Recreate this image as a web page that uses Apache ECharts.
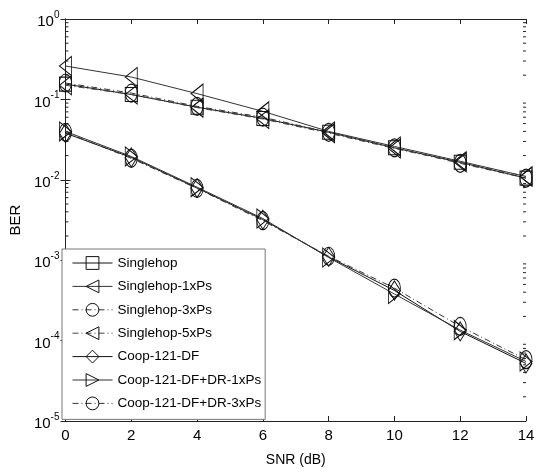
<!DOCTYPE html>
<html>
<head>
<meta charset="utf-8">
<script src="https://cdn.jsdelivr.net/npm/echarts@6/dist/echarts.min.js"></script>
<style>
html,body{margin:0;padding:0;background:#fff;}
#c{width:538px;height:472px;}
</style>
</head>
<body>
<div id="c"></div>
<script>
// ---- data ----
const snr = [0, 2, 4, 6, 8, 10, 12, 14];
const seriesNames = ['Singlehop','Singlehop-1xPs','Singlehop-3xPs','Singlehop-5xPs','Coop-121-DF','Coop-121-DF+DR-1xPs','Coop-121-DF+DR-3xPs'];
const singlehop      = [0.155, 0.115, 0.080, 0.058, 0.039, 0.025, 0.0165, 0.0105];
const singlehop1xPs  = [0.26, 0.19, 0.118, 0.071, 0.040, 0.026, 0.017, 0.011];
const singlehop3xPs  = [0.16, 0.12, 0.082, 0.060, 0.039, 0.025, 0.016, 0.0105];
const singlehop5xPs  = [0.15, 0.115, 0.079, 0.057, 0.038, 0.0245, 0.0165, 0.011];
const coopDF         = [0.038, 0.019, 0.0079, 0.0032, 0.0011, 0.00042, 0.00013, 0.000052];
const coopDR1xPs     = [0.040, 0.0195, 0.0081, 0.0033, 0.00108, 0.00038, 0.000135, 0.000055];
const coopDR3xPs     = [0.039, 0.0185, 0.0078, 0.0031, 0.00112, 0.00045, 0.00015, 0.000058];
const yTickExponents = [0, -1, -2, -3, -4, -5];
const xTicks = [0, 2, 4, 6, 8, 10, 12, 14];

// minor tick values for log axis (decoration)
const minorVals = [];
for (let e = -5; e < 0; e++) for (let k = 2; k <= 9; k++) minorVals.push(k * Math.pow(10, e));

const allData = [singlehop, singlehop1xPs, singlehop3xPs, singlehop5xPs, coopDF, coopDR1xPs, coopDR3xPs];
const styles = [
  {symbol:'rect', size:[12,14], rot:0, type:'solid', color:'#111'},
  {symbol:'triangle', size:[19,12], rot:90, type:'solid', color:'#333'},
  {symbol:'circle', size:[12,18], rot:0, type:[6,3,1,3], color:'#333'},
  {symbol:'triangle', size:[19,12], rot:90, type:[6,3,1,3], color:'#444'},
  {symbol:'diamond', size:[12,19], rot:0, type:'solid', color:'#111'},
  {symbol:'triangle', size:[19,12], rot:-90, type:'solid', color:'#333'},
  {symbol:'circle', size:[12,18], rot:0, type:[6,3,1,3], color:'#333'}
];

const series = allData.map((d, i) => ({
  name: seriesNames[i],
  type: 'line',
  data: d.map((v, j) => [snr[j], v]),
  symbol: styles[i].symbol,
  symbolSize: styles[i].size,
  symbolRotate: styles[i].rot,
  showAllSymbol: true,
  lineStyle: {color: styles[i].color, width: 1, type: styles[i].type},
  itemStyle: {color: 'rgba(255,255,255,0)', borderColor: '#111', borderWidth: 1},
  emphasis: {disabled: true},
  animation: false,
  z: 3
}));

// minor ticks on left and right y axes via custom series
series.push({
  type: 'custom',
  silent: true,
  animation: false,
  data: minorVals.map(v => [0, v]),
  renderItem: function (params, api) {
    const v = api.value(1);
    const pl = api.coord([0, v]);
    const pr = api.coord([14, v]);
    return {type: 'group', children: [
      {type: 'line', shape: {x1: pl[0], y1: pl[1], x2: pl[0] + 3, y2: pl[1]}, style: {stroke: '#222', lineWidth: 1}},
      {type: 'line', shape: {x1: pr[0], y1: pr[1], x2: pr[0] - 3, y2: pr[1]}, style: {stroke: '#222', lineWidth: 1}}
    ]};
  },
  z: 2
});

const font = '"Liberation Sans", Arial, sans-serif';
const chart = echarts.init(document.getElementById('c'), null, {renderer: 'canvas'});
chart.setOption({
  backgroundColor: '#fff',
  animation: false,
  grid: {left: 61, right: 12, top: 19, bottom: 49, containLabel: false},
  xAxis: [{
    type: 'value', min: 0, max: 14, interval: 2, position: 'bottom',
    name: 'SNR (dB)', nameLocation: 'middle', nameGap: 32,
    nameTextStyle: {fontFamily: font, fontSize: 14, color: '#000'},
    axisLine: {lineStyle: {color: '#222', width: 1}},
    axisTick: {inside: true, length: 5, lineStyle: {color: '#222'}},
    axisLabel: {fontFamily: font, fontSize: 15, color: '#000', margin: 7,
      formatter: v => xTicks.indexOf(v) >= 0 ? String(v) : ''},
    splitLine: {show: false}
  }, {
    type: 'value', min: 0, max: 14, interval: 2, position: 'top',
    axisLine: {lineStyle: {color: '#222', width: 1}},
    axisTick: {inside: true, length: 5, lineStyle: {color: '#222'}},
    axisLabel: {show: false}, splitLine: {show: false}
  }],
  yAxis: [{
    type: 'log', logBase: 10, min: 1e-5, max: 1, position: 'left',
    name: 'BER', nameLocation: 'middle', nameGap: 34, nameRotate: 90,
    nameTextStyle: {fontFamily: font, fontSize: 15, color: '#000'},
    axisLine: {show: true, lineStyle: {color: '#222', width: 1}},
    axisTick: {inside: true, length: 5, lineStyle: {color: '#222'}},
    axisLabel: {
      margin: 6, fontFamily: font, color: '#000',
      formatter: function (v) {
        const e = Math.round(Math.log10(v));
        if (yTickExponents.indexOf(e) < 0) return '';
        return '{b|10}{s|' + e + '}';
      },
      rich: {
        b: {fontFamily: font, fontSize: 15, color: '#000', padding: [6, 0, 0, 0]},
        s: {fontFamily: font, fontSize: 10, color: '#000', padding: [0, 0, 8, 0]}
      }
    },
    splitLine: {show: false}
  }, {
    type: 'log', logBase: 10, min: 1e-5, max: 1, position: 'right',
    axisLine: {show: true, lineStyle: {color: '#222', width: 1}},
    axisTick: {inside: true, length: 5, lineStyle: {color: '#222'}},
    axisLabel: {show: false}, splitLine: {show: false}
  }],
  legend: {
    orient: 'vertical', left: 62, top: 249,
    backgroundColor: '#fff', borderColor: '#777', borderWidth: 1,
    padding: [6, 4, 8, 10],
    itemWidth: 40, itemHeight: 16, itemGap: 7.4,
    itemStyle: {color: 'rgba(255,255,255,0)', borderColor: '#111', borderWidth: 1},
    lineStyle: {width: 1},
    textStyle: {fontFamily: font, fontSize: 13.5, lineHeight: 16, color: '#000'},
    data: seriesNames,
    selectedMode: false
  },
  series: series
});
</script>
</body>
</html>
